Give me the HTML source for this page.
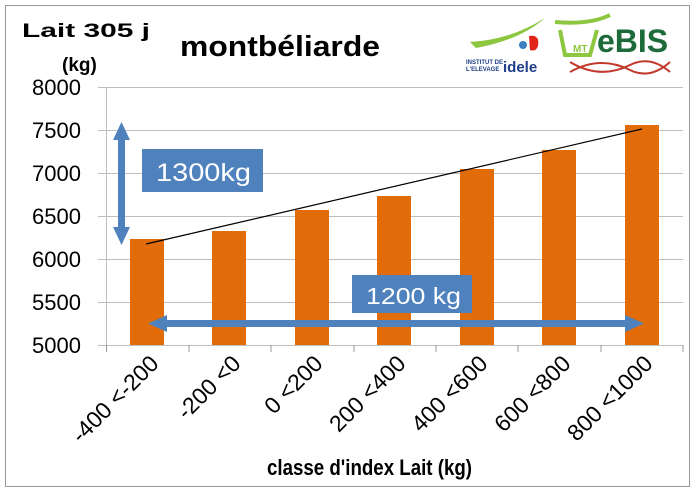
<!DOCTYPE html>
<html><head><style>
body{margin:0;background:#fff;}
svg{display:block;font-family:"Liberation Sans",Arial,sans-serif;}
</style></head><body>
<svg width="700" height="492" viewBox="0 0 700 492">
<rect x="5.5" y="5.5" width="684" height="481" fill="#fff" stroke="#999" stroke-width="1"/>
<g stroke="#bfbfbf" stroke-width="1">
<line x1="98" x2="683" y1="87.5" y2="87.5"/>
<line x1="98" x2="683" y1="130.5" y2="130.5"/>
<line x1="98" x2="683" y1="173.5" y2="173.5"/>
<line x1="98" x2="683" y1="216.5" y2="216.5"/>
<line x1="98" x2="683" y1="259.5" y2="259.5"/>
<line x1="98" x2="683" y1="302.5" y2="302.5"/>
<line x1="98" x2="683" y1="345.5" y2="345.5"/>
<line x1="106.5" x2="106.5" y1="87" y2="345"/>
</g>
<g stroke="#999" stroke-width="1">
<line x1="106.5" x2="106.5" y1="345" y2="352"/>
<line x1="189" x2="189" y1="345" y2="352"/>
<line x1="271" x2="271" y1="345" y2="352"/>
<line x1="354" x2="354" y1="345" y2="352"/>
<line x1="436" x2="436" y1="345" y2="352"/>
<line x1="518" x2="518" y1="345" y2="352"/>
<line x1="601" x2="601" y1="345" y2="352"/>
<line x1="683" x2="683" y1="345" y2="352"/>
</g>
<g fill="#e36c0a">
<rect x="130" y="239" width="34" height="106"/>
<rect x="212" y="231" width="34" height="114"/>
<rect x="295" y="210" width="34" height="135"/>
<rect x="377" y="196" width="34" height="149"/>
<rect x="460" y="169" width="34" height="176"/>
<rect x="542" y="150" width="34" height="195"/>
<rect x="625" y="125" width="34" height="220"/>
</g>
<line x1="146" y1="244" x2="642" y2="129" stroke="#000" stroke-width="1.2"/>
<g font-size="22" fill="#000" text-anchor="end">
<text x="81" y="95">8000</text>
<text x="81" y="138">7500</text>
<text x="81" y="181">7000</text>
<text x="81" y="224">6500</text>
<text x="81" y="267">6000</text>
<text x="81" y="310">5500</text>
<text x="81" y="353">5000</text>
</g>
<text x="22" y="37" font-size="19" font-weight="bold" textLength="128" lengthAdjust="spacingAndGlyphs">Lait 305 j</text>
<text x="62" y="71" font-size="19" font-weight="bold">(kg)</text>
<text x="180" y="56" font-size="29" font-weight="bold" textLength="200" lengthAdjust="spacingAndGlyphs">montbéliarde</text>
<g fill="#4f81bd" stroke="none">
<rect x="118" y="136" width="7" height="96"/>
<polygon points="121.5,122 113,140 130,140"/>
<polygon points="121.5,245 113,227 130,227"/>
<rect x="142" y="149" width="121" height="43"/>
<rect x="162" y="320" width="468" height="7"/>
<polygon points="148,323.5 167,315 167,332"/>
<polygon points="644,323.5 625,315 625,332"/>
<rect x="352" y="275" width="120" height="38"/>
</g>
<text x="156" y="181" font-size="25" fill="#fff" textLength="95" lengthAdjust="spacingAndGlyphs">1300kg</text>
<text x="366" y="304" font-size="23" fill="#fff" textLength="95" lengthAdjust="spacingAndGlyphs">1200 kg</text>
<g font-size="23" fill="#000" text-anchor="end">
<text transform="translate(160,365) rotate(-45)">-400 &lt;-200</text>
<text transform="translate(242,365) rotate(-45)">-200 &lt;0</text>
<text transform="translate(324,365) rotate(-45)">0 &lt;200</text>
<text transform="translate(407,365) rotate(-45)">200 &lt;400</text>
<text transform="translate(489,365) rotate(-45)">400 &lt;600</text>
<text transform="translate(572,365) rotate(-45)">600 &lt;800</text>
<text transform="translate(654,365) rotate(-45)">800 &lt;1000</text>
</g>
<text x="267" y="475" font-size="22" font-weight="bold" textLength="205" lengthAdjust="spacingAndGlyphs">classe d'index Lait (kg)</text>
<path d="M470 42 Q510 40 545 18 Q520 40 476 48 Z" fill="#8dc63f"/>
<circle cx="523" cy="45" r="4" fill="#3a7fc1"/>
<path d="M529 36 Q540 34 538 46 Q536 52 530 50 Z" fill="#e2231a"/>
<text x="466" y="64" font-size="6" fill="#1f3c88" font-weight="bold">INSTITUT DE</text>
<text x="466" y="71" font-size="6" fill="#1f3c88" font-weight="bold">L'ELEVAGE</text>
<text x="503" y="72" font-size="15" fill="#1f3c88" font-weight="bold">idele</text>
<path d="M555 22 Q590 25 610 15 M560 30 L565 55 L590 55 L597 30" stroke="#8dc63f" stroke-width="4" fill="none"/>
<text x="573" y="52" font-size="10" fill="#8dc63f" font-weight="bold">MT</text>
<text x="597" y="52" font-size="32" fill="#1e6b3a" font-weight="bold">eBIS</text>
<path d="M570 72 Q600 55 630 70 Q650 80 670 62" stroke="#c0392b" stroke-width="2" fill="none"/>
<path d="M570 62 Q600 80 630 65 Q650 55 670 72" stroke="#c0392b" stroke-width="2" fill="none"/>
</svg>
</body></html>
